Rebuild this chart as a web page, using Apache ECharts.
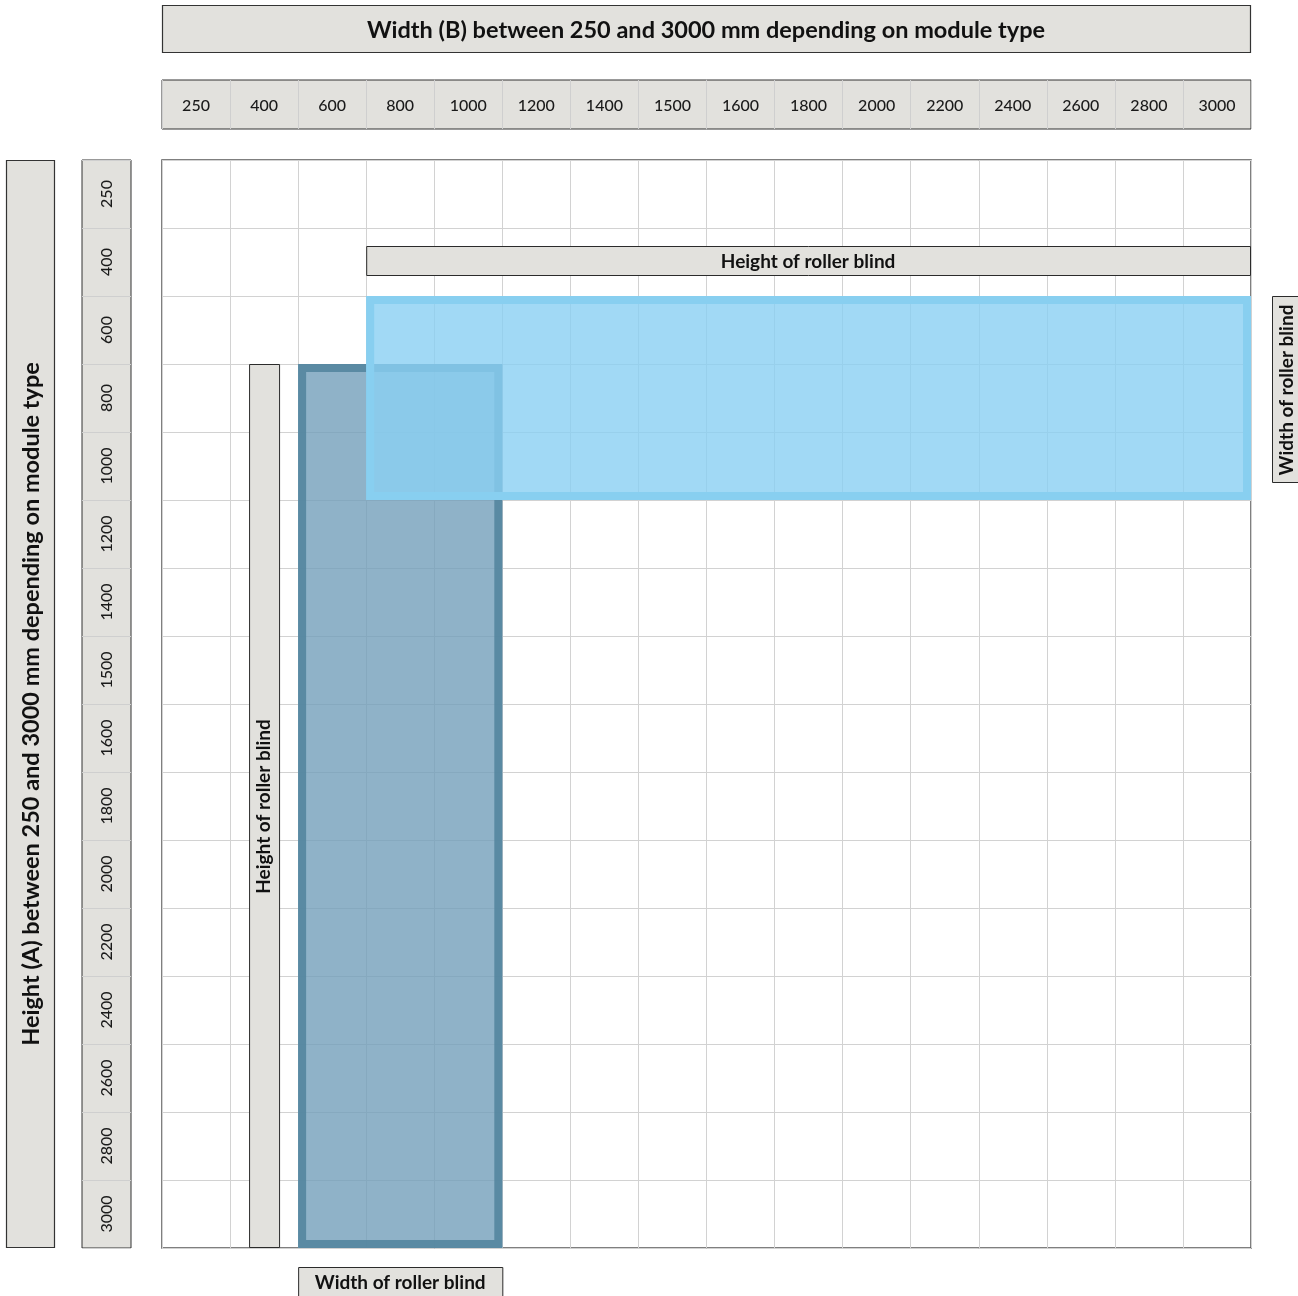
<!DOCTYPE html>
<html>
<head>
<meta charset="utf-8">
<script src="https://cdn.jsdelivr.net/npm/echarts@6/dist/echarts.min.js"></script>
<style>
html,body{margin:0;padding:0;background:#fff;}
#chart{width:1298px;height:1296px;}
</style>
</head>
<body>
<div id="chart"></div>
<script>
// ---- data ----
const widthTicks = ['250','400','600','800','1000','1200','1400','1500','1600','1800','2000','2200','2400','2600','2800','3000'];
const heightTicks = ['250','400','600','800','1000','1200','1400','1500','1600','1800','2000','2200','2400','2600','2800','3000'];
const titleWidth = 'Width (B) between 250 and 3000 mm depending on module type';
const titleHeight = 'Height (A) between 250 and 3000 mm depending on module type';
// [width from, width to, height from, height to]
const verticalModule = ['600','1000','800','3000'];
const horizontalModule = ['800','3000','600','1000'];
const labelHeightText = 'Height of roller blind';
const labelWidthText = 'Width of roller blind';
// label placements: horizontal label in row 400 over widths 800..3000, vertical label in column 400 over heights 800..3000
const hLabelRange = ['800','3000','400'];
const vLabelRange = ['400','800','3000'];

const FONT = 'Lato, "Open Sans", sans-serif';
const BOXFILL = '#e2e1dd';
const BOXLINE = '#2b2b2b';

const ix = v => widthTicks.indexOf(v);
const iy = v => heightTicks.indexOf(v);

function band(api, xi, yi) {
  const c = api.coord([xi, yi]);
  const s = api.size([1, 1]);
  const w = Math.abs(s[0]), h = Math.abs(s[1]);
  return {l: c[0] - w / 2, r: c[0] + w / 2, t: c[1] - h / 2, b: c[1] + h / 2, w, h};
}

function moduleRect(fill, stroke, lw) {
  return function (params, api) {
    const a = band(api, api.value(0), api.value(2));
    const b = band(api, api.value(1), api.value(3));
    const x0 = Math.min(a.l, b.l), x1 = Math.max(a.r, b.r);
    const y0 = Math.min(a.t, b.t), y1 = Math.max(a.b, b.b);
    return {
      type: 'group',
      children: [
        {type: 'rect', shape: {x: x0, y: y0, width: x1 - x0, height: y1 - y0}, style: {fill: fill}},
        {type: 'rect', shape: {x: x0 + lw / 2, y: y0 + lw / 2, width: x1 - x0 - lw, height: y1 - y0 - lw}, style: {fill: null, stroke: stroke, lineWidth: lw}}
      ]
    };
  };
}

function labelBox(x, y, w, h, text, vertical) {
  return {
    type: 'group',
    children: [
      {type: 'rect', shape: {x: x + 0.5, y: y + 0.5, width: w, height: h}, style: {fill: BOXFILL, stroke: BOXLINE, lineWidth: 1}},
      {type: 'text', x: x + w / 2, y: y + h / 2 + 1, rotation: vertical ? Math.PI / 2 : 0,
        style: {text: text, align: 'center', verticalAlign: 'middle', font: 'bold 19px ' + FONT, fill: '#111'}}
    ]
  };
}

const chart = echarts.init(document.getElementById('chart'), null, {renderer: 'canvas'});

const option = {
  backgroundColor: '#ffffff',
  animation: false,
  grid: [
    {left: 162, top: 160, width: 1089, height: 1088, show: true, backgroundColor: '#fff', borderColor: '#555', borderWidth: 1.5, z: 0},
    {left: 162, top: 80, width: 1089, height: 49, show: true, backgroundColor: BOXFILL, borderColor: '#333', borderWidth: 1},
    {left: 82, top: 160, width: 49, height: 1088, show: true, backgroundColor: BOXFILL, borderColor: '#333', borderWidth: 1}
  ],
  xAxis: [
    {gridIndex: 0, type: 'category', data: widthTicks, position: 'top', boundaryGap: true,
      axisLine: {show: false}, axisTick: {show: false}, axisLabel: {show: false},
      splitLine: {show: true, lineStyle: {color: '#d2d2d2', width: 1}}},
    {gridIndex: 1, type: 'category', data: widthTicks, position: 'bottom', boundaryGap: true,
      axisLine: {show: false}, axisTick: {show: false},
      axisLabel: {show: true, inside: true, margin: 23, verticalAlign: 'middle', align: 'center', fontFamily: FONT, fontSize: 16, fontWeight: 500, color: '#1a1a1a'},
      splitLine: {show: true, lineStyle: {color: '#cfcfcf', width: 1}}},
    {gridIndex: 2, type: 'value', show: false}
  ],
  yAxis: [
    {gridIndex: 0, type: 'category', data: heightTicks, inverse: true, boundaryGap: true,
      axisLine: {show: false}, axisTick: {show: false}, axisLabel: {show: false},
      splitLine: {show: true, lineStyle: {color: '#d2d2d2', width: 1}}},
    {gridIndex: 1, type: 'value', show: false},
    {gridIndex: 2, type: 'category', data: heightTicks, inverse: true, boundaryGap: true, position: 'left',
      axisLine: {show: false}, axisTick: {show: false},
      axisLabel: {show: true, inside: true, margin: 25, rotate: 90, align: 'center', verticalAlign: 'middle', fontFamily: FONT, fontSize: 16, fontWeight: 500, color: '#1a1a1a'},
      splitLine: {show: true, lineStyle: {color: '#cfcfcf', width: 1}}}
  ],
  graphic: [
    {type: 'group', children: [
      {type: 'rect', shape: {x: 162.5, y: 5.5, width: 1088, height: 47}, style: {fill: BOXFILL, stroke: '#333', lineWidth: 1.2}},
      {type: 'text', x: 706, y: 30, style: {text: titleWidth, align: 'center', verticalAlign: 'middle', font: 'bold 23.5px ' + FONT, fill: '#111'}}
    ]},
    {type: 'group', children: [
      {type: 'rect', shape: {x: 6.5, y: 160.5, width: 48, height: 1087}, style: {fill: BOXFILL, stroke: '#333', lineWidth: 1.2}},
      {type: 'text', x: 31, y: 704, rotation: Math.PI / 2, style: {text: titleHeight, align: 'center', verticalAlign: 'middle', font: 'bold 23.5px ' + FONT, fill: '#111'}}
    ]}
  ],
  series: [
    {type: 'custom', xAxisIndex: 0, yAxisIndex: 0, z: 3, clip: false,
      renderItem: moduleRect('rgba(115,159,186,0.8)', 'rgba(88,136,161,0.97)', 8),
      data: [[ix(verticalModule[0]), ix(verticalModule[1]), iy(verticalModule[2]), iy(verticalModule[3])]]},
    {type: 'custom', xAxisIndex: 0, yAxisIndex: 0, z: 4, clip: false,
      renderItem: moduleRect('rgba(137,207,242,0.8)', '#88cff0', 8),
      data: [[ix(horizontalModule[0]), ix(horizontalModule[1]), iy(horizontalModule[2]), iy(horizontalModule[3])]]},
    // horizontal "Height of roller blind" label
    {type: 'custom', xAxisIndex: 0, yAxisIndex: 0, z: 5, clip: false,
      renderItem: function (params, api) {
        const a = band(api, api.value(0), api.value(2));
        const b = band(api, api.value(1), api.value(2));
        return labelBox(a.l, a.t + 18, b.r - a.l - 1, 29, labelHeightText, false);
      },
      data: [[ix(hLabelRange[0]), ix(hLabelRange[1]), iy(hLabelRange[2])]]},
    // vertical "Height of roller blind" label
    {type: 'custom', xAxisIndex: 0, yAxisIndex: 0, z: 5, clip: false,
      renderItem: function (params, api) {
        const a = band(api, api.value(0), api.value(1));
        const b = band(api, api.value(0), api.value(2));
        return labelBox(a.l + 19, a.t, 30, b.b - a.t - 1, labelHeightText, true);
      },
      data: [[ix(vLabelRange[0]), iy(vLabelRange[1]), iy(vLabelRange[2])]]},
    // bottom "Width of roller blind" label (under vertical module)
    {type: 'custom', xAxisIndex: 0, yAxisIndex: 0, z: 5, clip: false,
      renderItem: function (params, api) {
        const a = band(api, api.value(0), api.value(2));
        const b = band(api, api.value(1), api.value(3));
        return labelBox(a.l, b.b + 19, b.r - a.l, 29, labelWidthText, false);
      },
      data: [[ix(verticalModule[0]), ix(verticalModule[1]), iy(verticalModule[2]), iy(verticalModule[3])]]},
    // right "Width of roller blind" label (beside horizontal module)
    {type: 'custom', xAxisIndex: 0, yAxisIndex: 0, z: 5, clip: false,
      renderItem: function (params, api) {
        const a = band(api, api.value(1), api.value(2));
        return labelBox(a.r + 21, a.t, 30, 186, labelWidthText, true);
      },
      data: [[ix(horizontalModule[0]), ix(horizontalModule[1]), iy(horizontalModule[2]), iy(horizontalModule[3])]]}
  ]
};
chart.setOption(option);
</script>
</body>
</html>
